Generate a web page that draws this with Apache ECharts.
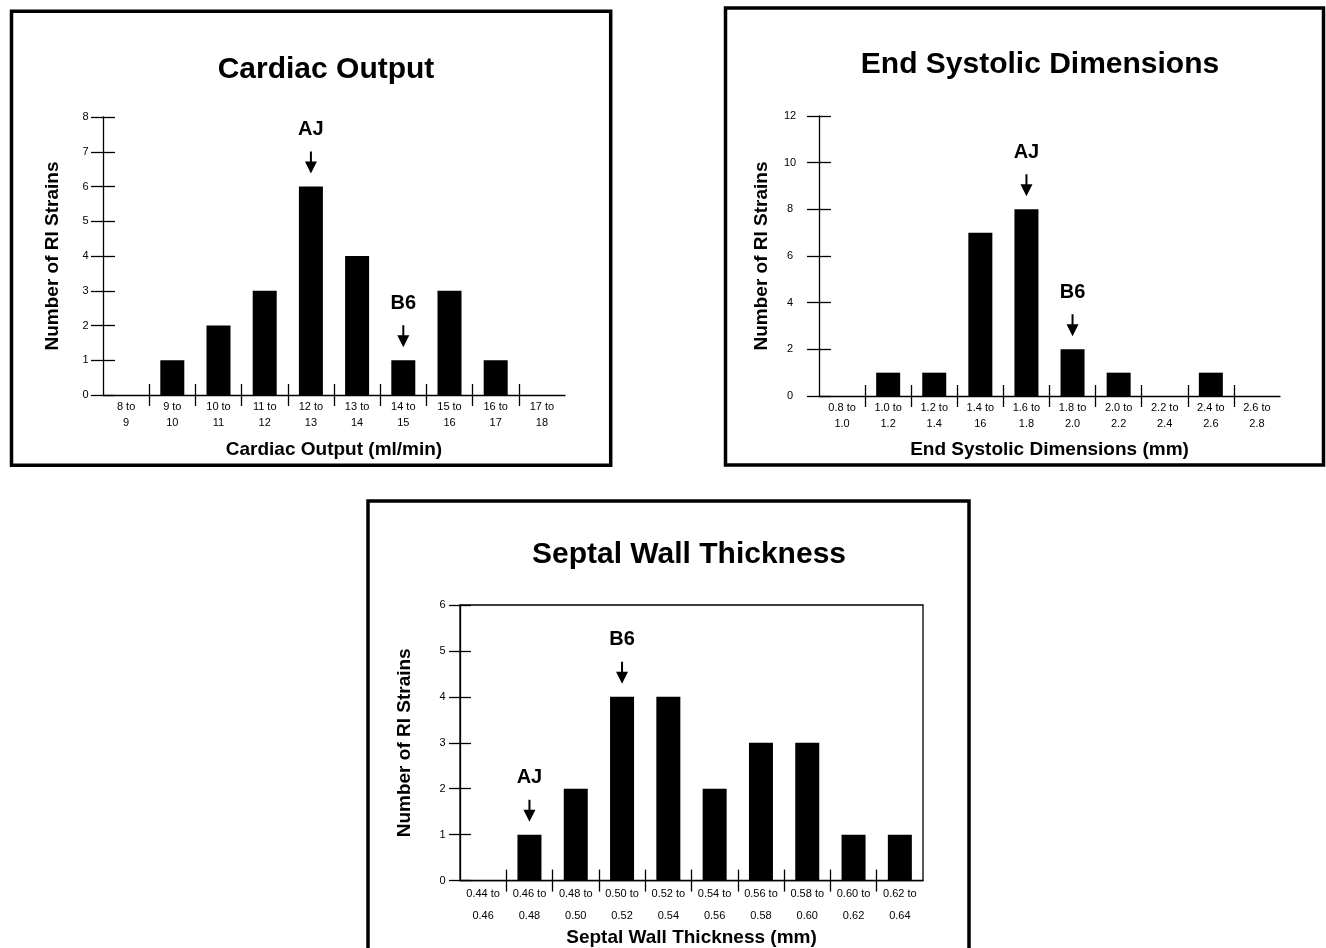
<!DOCTYPE html>
<html><head><meta charset="utf-8">
<script src="https://cdn.jsdelivr.net/npm/echarts@6/dist/echarts.min.js"></script>
<style>html,body{margin:0;padding:0;background:#fff}#c{width:1326px;height:948px}</style>
</head><body><div id="c"></div>
<script>
// ---------- Data ----------
const coCategories = ['8 to 9','9 to 10','10 to 11','11 to 12','12 to 13','13 to 14','14 to 15','15 to 16','16 to 17','17 to 18'];
const coValues = [0, 1, 2, 3, 6, 4, 1, 3, 1, 0];
const coMarkers = [{name: 'AJ', category: '12 to 13'}, {name: 'B6', category: '14 to 15'}];
const coYAxis = {min: 0, max: 8, interval: 1};

const esdCategories = ['0.8 to 1.0','1.0 to 1.2','1.2 to 1.4','1.4 to 16','1.6 to 1.8','1.8 to 2.0','2.0 to 2.2','2.2 to 2.4','2.4 to 2.6','2.6 to 2.8'];
const esdValues = [0, 1, 1, 7, 8, 2, 1, 0, 1, 0];
const esdMarkers = [{name: 'AJ', category: '1.6 to 1.8'}, {name: 'B6', category: '1.8 to 2.0'}];
const esdYAxis = {min: 0, max: 12, interval: 2};

const swtCategories = ['0.44 to 0.46','0.46 to 0.48','0.48 to 0.50','0.50 to 0.52','0.52 to 0.54','0.54 to 0.56','0.56 to 0.58','0.58 to 0.60','0.60 to 0.62','0.62 to 0.64'];
const swtValues = [0, 1, 2, 4, 4, 2, 3, 3, 1, 1];
const swtMarkers = [{name: 'AJ', category: '0.46 to 0.48'}, {name: 'B6', category: '0.50 to 0.52'}];
const swtYAxis = {min: 0, max: 6, interval: 1};

// bin boundaries (divider ticks between categories)
const binBoundaries = [1, 2, 3, 4, 5, 6, 7, 8, 9];

// ---------- Style / layout ----------
const FONT = '"Liberation Sans", Arial, Helvetica, sans-serif';
const ARROW = 'path://M5,0L7,0L7,10L12,10L6,22L0,10L5,10Z';

const panels = [
  {title: 'Cardiac Output', titleX: 321, titleY: 50,
   cats: coCategories, vals: coValues, markers: coMarkers, y: coYAxis,
   xName: 'Cardiac Output (ml/min)', yName: 'Number of RI Strains',
   grid: {left: 103, top: 117, width: 462, height: 278, box: false},
   labelMargin: 4, lineHeight: 16, xNameGap: 45, yNameGap: 41, yLabelMargin: 17.5, tickLen: 12},
  {title: 'End Systolic Dimensions', titleX: 1035, titleY: 45,
   cats: esdCategories, vals: esdValues, markers: esdMarkers, y: esdYAxis,
   xName: 'End Systolic Dimensions (mm)', yName: 'Number of RI Strains',
   grid: {left: 819, top: 116, width: 461, height: 280, box: false},
   labelMargin: 4, lineHeight: 16, xNameGap: 44, yNameGap: 48, yLabelMargin: 29, tickLen: 12},
  {title: 'Septal Wall Thickness', titleX: 684, titleY: 535,
   cats: swtCategories, vals: swtValues, markers: swtMarkers, y: swtYAxis,
   xName: 'Septal Wall Thickness (mm)', yName: 'Number of RI Strains',
   grid: {left: 460, top: 605, width: 463, height: 278, box: true},
   labelMargin: 2.5, lineHeight: 22, xNameGap: 44, yNameGap: 46, yLabelMargin: 17.5, tickLen: 11}
];

const lineStyle = {color: '#000', width: 1.3};
const titles = [], grids = [], xAxes = [], yAxes = [], series = [];

panels.forEach((p, i) => {
  titles.push({text: p.title, left: p.titleX, top: p.titleY, textAlign: 'center',
    textStyle: {fontSize: 30, fontWeight: 'bold', color: '#000', fontFamily: FONT}});
  grids.push({left: p.grid.left, top: p.grid.top, width: p.grid.width, height: p.grid.height,
    show: p.grid.box, borderColor: '#000', borderWidth: 1.3, backgroundColor: 'transparent'});
  // category axis: labels & axis line
  xAxes.push({type: 'category', gridIndex: i, position: 'bottom', data: p.cats,
    axisLine: {show: true, lineStyle}, axisTick: {show: false}, splitLine: {show: false},
    axisLabel: {interval: 0, fontSize: 11, color: '#000', fontFamily: FONT,
      lineHeight: p.lineHeight, margin: p.labelMargin,
      formatter: v => v.replace(' to ', ' to\n')},
    name: p.xName, nameLocation: 'middle', nameGap: p.xNameGap,
    nameTextStyle: {fontSize: 19, fontWeight: 'bold', color: '#000', fontFamily: FONT}});
  // divider ticks (outside + inside so they cross the axis)
  [false, true].forEach(inside => {
    xAxes.push({type: 'value', gridIndex: i, position: 'bottom', min: 0, max: p.cats.length,
      interval: 1, axisLine: {show: false}, axisLabel: {show: false}, splitLine: {show: false},
      axisTick: {show: true, inside, length: 11, customValues: binBoundaries, lineStyle}});
  });
  yAxes.push({type: 'value', gridIndex: i, position: 'left', min: p.y.min, max: p.y.max,
    interval: p.y.interval, axisLine: {show: true, lineStyle},
    axisTick: {show: true, inside: false, length: p.tickLen, lineStyle},
    axisLabel: {fontSize: 11, color: '#000', fontFamily: FONT, align: 'center',
      margin: p.yLabelMargin, padding: [7, 0, 0, 0]},
    splitLine: {show: false},
    name: p.yName, nameLocation: 'middle', nameGap: p.yNameGap, nameRotate: 90,
    nameTextStyle: {fontSize: 19, fontWeight: 'bold', color: '#000', fontFamily: FONT}});
  yAxes.push({type: 'value', gridIndex: i, position: 'left', min: p.y.min, max: p.y.max,
    interval: p.y.interval, axisLine: {show: false}, axisLabel: {show: false},
    splitLine: {show: false},
    axisTick: {show: true, inside: true, length: p.tickLen, lineStyle}});
  series.push({type: 'bar', xAxisIndex: i * 3, yAxisIndex: i * 2, data: p.vals,
    barWidth: 24, itemStyle: {color: '#000'}, silent: true, emphasis: {disabled: true},
    markPoint: {
      symbol: ARROW, symbolSize: [12, 22], symbolOffset: [0, -24], silent: true,
      itemStyle: {color: '#000'},
      label: {show: true, position: 'top', distance: 12, formatter: d => d.name,
        fontSize: 20, fontWeight: 'bold', color: '#000', fontFamily: FONT},
      data: p.markers.map(m => ({name: m.name,
        coord: [m.category, p.vals[p.cats.indexOf(m.category)]]}))
    }});
});

const chart = echarts.init(document.getElementById('c'), null, {renderer: 'canvas'});
chart.setOption({
  animation: false,
  backgroundColor: '#fff',
  textStyle: {fontFamily: FONT},
  title: titles, grid: grids, xAxis: xAxes, yAxis: yAxes, series,
  graphic: [
    {type: 'rect', silent: true, shape: {x: 11.5, y: 11.3, width: 599.2, height: 454},
      style: {fill: 'none', stroke: '#000', lineWidth: 3.5}},
    {type: 'rect', silent: true, shape: {x: 725.5, y: 8, width: 598, height: 457},
      style: {fill: 'none', stroke: '#000', lineWidth: 3.5}},
    {type: 'rect', silent: true, shape: {x: 368, y: 501, width: 601, height: 470},
      style: {fill: 'none', stroke: '#000', lineWidth: 3.5}}
  ]
});
</script></body></html>
